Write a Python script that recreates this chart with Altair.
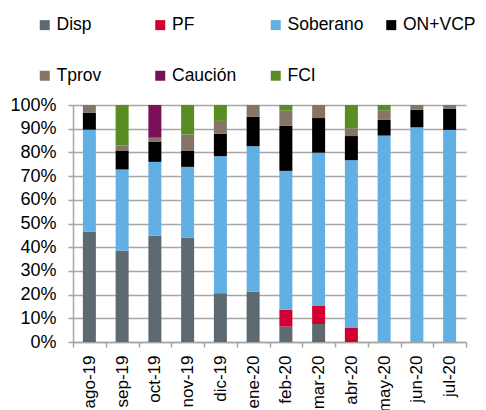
import altair as alt
import pandas as pd

months = ["ago-19", "sep-19", "oct-19", "nov-19", "dic-19", "ene-20",
          "feb-20", "mar-20", "abr-20", "may-20", "jun-20", "jul-20"]
series = ["Disp", "PF", "Soberano", "ON+VCP", "Tprov", "Caución", "FCI"]
colors = ["#5E6A72", "#D20032", "#62AFE3", "#000000", "#857565", "#7A1158", "#5A8C24"]
# legend is laid out column by column (2 rows x 4 columns)
legend_order = ["Disp", "Tprov", "PF", "Caución", "Soberano", "FCI", "ON+VCP"]

disp     = [46.6, 38.6, 44.8, 44.1, 20.6, 21.2, 6.5, 7.6, 0.0, 0.0, 0.0, 0.0]
pf       = [0.0, 0.0, 0.0, 0.0, 0.0, 0.0, 7.1, 7.8, 5.9, 0.0, 0.0, 0.0]
soberano = [43.0, 34.2, 31.2, 29.8, 57.8, 61.4, 58.6, 64.5, 70.8, 87.1, 90.6, 89.5]
on_vcp   = [7.2, 8.0, 8.6, 6.9, 9.5, 12.5, 19.0, 14.6, 10.2, 6.6, 7.4, 9.0]
tprov    = [3.2, 2.1, 1.6, 6.8, 5.4, 4.9, 6.4, 5.5, 3.3, 4.1, 2.0, 1.5]
caucion  = [0.0, 0.0, 13.8, 0.0, 0.0, 0.0, 0.0, 0.0, 0.0, 0.0, 0.0, 0.0]
fci      = [0.0, 17.1, 0.0, 12.4, 6.7, 0.0, 2.4, 0.0, 9.8, 2.2, 0.0, 0.0]

y_ticks = [0, 0.1, 0.2, 0.3, 0.4, 0.5, 0.6, 0.7, 0.8, 0.9, 1.0]

values = [disp, pf, soberano, on_vcp, tprov, caucion, fci]
rows = []
for k, (name, vals) in enumerate(zip(series, values)):
    for m, v in zip(months, vals):
        rows.append({"mes": m, "serie": name, "k": k, "v": v / 100.0})
df = pd.DataFrame(rows)

color_of = dict(zip(series, colors))
legend_colors = [color_of[s] for s in legend_order]

FONT = "Liberation Sans"
GRID = "#A6A6A6"

chart = alt.Chart(df).mark_bar(size=13).encode(
    x=alt.X("mes:N", sort=months, title=None,
            scale=alt.Scale(paddingInner=0, paddingOuter=0),
            axis=alt.Axis(labelAngle=-90, labelFont=FONT, labelFontSize=17,
                          labelColor="#000000", labelPadding=8, tickBand="extent",
                          ticks=True, tickSize=5, tickColor=GRID, domainColor=GRID,
                          tickWidth=1.5, domainWidth=1.5,
                          grid=False, labelAlign="right", labelBaseline="middle")),
    y=alt.Y("v:Q", stack="zero", title=None,
            scale=alt.Scale(domain=[0, 1], nice=False),
            axis=alt.Axis(values=y_ticks, format=".0%", labelFont=FONT, labelFontSize=18,
                          labelColor="#000000", labelPadding=12, tickSize=5,
                          tickColor=GRID, domainColor=GRID, gridColor=GRID,
                          tickWidth=1.5, domainWidth=1.5, gridWidth=1.5)),
    color=alt.Color("serie:N", title=None,
                    scale=alt.Scale(domain=legend_order, range=legend_colors),
                    legend=alt.Legend(orient="none", legendX=-37, legendY=-89,
                                      columns=4, gridAlign="all", columnPadding=18.5,
                                      rowPadding=32, symbolType="square", symbolSize=100,
                                      symbolStrokeWidth=0, labelOffset=3,
                                      labelFont=FONT, labelFontSize=17.5,
                                      labelColor="#000000", padding=0)),
    order=alt.Order("k:Q", sort="ascending"),
).properties(
    width=393, height=237,
    autosize=alt.AutoSizeParams(type="none"),
    padding={"left": 65, "top": 97, "right": 12, "bottom": 68},
).configure_view(stroke=None)

chart.save("out.html", embed_options={"renderer": "svg", "actions": False})
